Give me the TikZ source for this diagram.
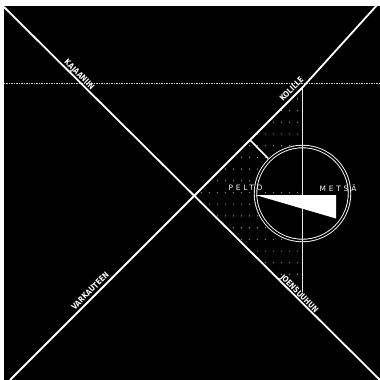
\documentclass[tikz,border=0pt]{standalone}
\usepackage{fontspec}
\newfontfamily\roadfont[FakeStretch=0.8]{DejaVu Sans}
\newfontfamily\areafont[LetterSpace=38]{DejaVu Sans}
\usetikzlibrary{calc}
\tikzset{
  road/.style={draw=white, line width=1.8pt},
  roadlabel/.style={text=white, font=\roadfont\bfseries\fontsize{8.2}{8}\selectfont, inner sep=0pt},
  arealabel/.style={text=white, font=\areafont\fontsize{7.4}{7}\selectfont, inner sep=0pt},
  dotc/.style={fill=gray!90},
  ringstyle/.style={circle, fill=black, draw=white, double=black, double distance=1.6pt, line width=0.9pt, minimum size=94pt, inner sep=0pt},
}
\begin{document}
\begin{tikzpicture}[x=1pt,y=-1pt]
\useasboundingbox (0,0) rectangle (380,380);
\fill[white] (0,0) rectangle (380,380);
\fill[black] (3.5,6) rectangle (380,380);
\draw[gray!35, line width=0.8pt, dash pattern=on 1.5pt off 1pt] (3.5,83) -- (380,83);
\coordinate (nw) at (4,7);
\coordinate (se) at (380,380);
\coordinate (sw) at (10,380);
\coordinate (kink) at (302,88);
\coordinate (ne) at (378,4);
\coordinate (x) at (194.3,195.7);
\coordinate (vb) at (302,292);
\coordinate (c) at (302.5,193.5);
\coordinate (s1) at (250,140);
\begin{scope}
  \clip (x) -- (kink) -- (302,304) -- cycle;
  \foreach \j in {-8,...,9}{\foreach \i in {0,...,13}{\fill[dotc] ({297.5-8*\i},{192.5+11.7*\j}) circle (0.7);}}
\end{scope}
\node[ringstyle] (ring) at (c) {};
\foreach \i in {0,...,4}{\fill[dotc] ({297.5-8*\i},192.5) circle (0.7);}
\draw[white!90!black, line width=1pt] (kink) -- (vb);
\fill[white] (255.5,195) -- (336,195) -- (336,218.5) -- cycle;
\draw[road] (nw) -- (se);
\draw[road] (sw) -- (kink) -- (ne);
\draw[white, line width=1.6pt, shorten >=1.7pt] (s1) -- (ring);
\node[roadlabel, rotate=-45] (kaj) at (79,75) {KAJAANIIN};
\node[roadlabel, rotate=45] (kol) at (291.5,89) {KOLILLE};
\node[roadlabel, rotate=45] (var) at (90,291) {VARKAUTEEN};
\node[roadlabel, rotate=-45] (joe) at (299,294) {JOENSUUHUN};
\node[arealabel] (pel) at (245.5,188) {PELTO};
\node[arealabel] (met) at (338,188) {METSÄ};
\end{tikzpicture}
\end{document}
